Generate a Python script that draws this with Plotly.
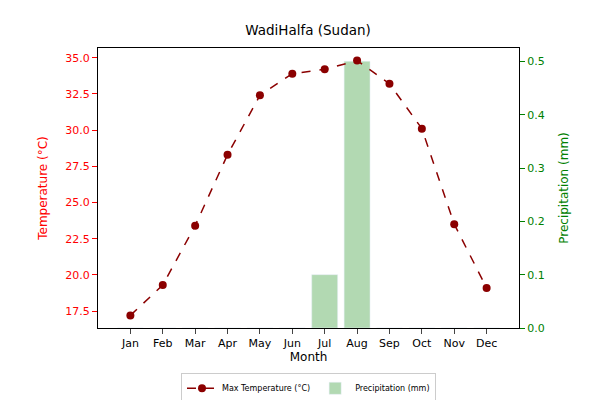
import plotly.graph_objects as go

months = ["Jan", "Feb", "Mar", "Apr", "May", "Jun", "Jul", "Aug", "Sep", "Oct", "Nov", "Dec"]
max_temp = [17.2, 19.3, 23.4, 28.3, 32.4, 33.9, 34.2, 34.8, 33.2, 30.1, 23.5, 19.1]
precip = [0, 0, 0, 0, 0, 0, 0.1, 0.5, 0, 0, 0, 0]

fig = go.Figure()

# bars on the primary axis (drawn underneath), shown on the right
fig.add_trace(go.Bar(x=months, y=precip, name="Precipitation (mm)",
                     marker=dict(color="rgba(0,128,0,0.3)"), width=0.8, yaxis="y"))
# temperature line on the overlaying axis, shown on the left
fig.add_trace(go.Scatter(x=months, y=max_temp, name="Max Temperature (°C)",
                         mode="lines+markers", yaxis="y2",
                         line=dict(color="darkred", dash="dash", width=1.5),
                         marker=dict(color="darkred", size=8)))

fig.update_layout(
    width=600, height=400,
    plot_bgcolor="white", paper_bgcolor="white",
    font=dict(family="DejaVu Sans", size=11, color="black"),
    title=dict(text="WadiHalfa (Sudan)", x=0.5, y=0.955, xanchor="center", font=dict(size=13.5)),
    margin=dict(l=90, r=89, t=40, b=80, autoexpand=False),
    xaxis=dict(title=dict(text="Month", standoff=2, font=dict(size=12)), showline=True,
               linecolor="black", mirror=True, ticks="outside", range=[-1, 12], automargin=False),
    yaxis=dict(title=dict(text="Precipitation (mm)", font=dict(color="green", size=12)), side="right",
               range=[0, 0.525], dtick=0.1, tickformat=".1f", tickfont=dict(color="green"),
               ticks="outside", tickcolor="green", showgrid=False, linecolor="black", showline=True,
               automargin=False),
    yaxis2=dict(title=dict(text="Temperature (°C)", font=dict(color="red", size=12)), side="left",
                overlaying="y", range=[16.33, 35.67], dtick=2.5, tickformat=".1f",
                tickfont=dict(color="red"), ticks="outside", tickcolor="red", showgrid=False,
                showline=True, linecolor="black", automargin=False),
    legend=dict(orientation="h", x=0.5, xanchor="center", y=-0.16, yanchor="top",
                bordercolor="#ccc", borderwidth=1, font=dict(size=8), traceorder="reversed"),
    showlegend=True,
)

fig.write_html("out.html")
